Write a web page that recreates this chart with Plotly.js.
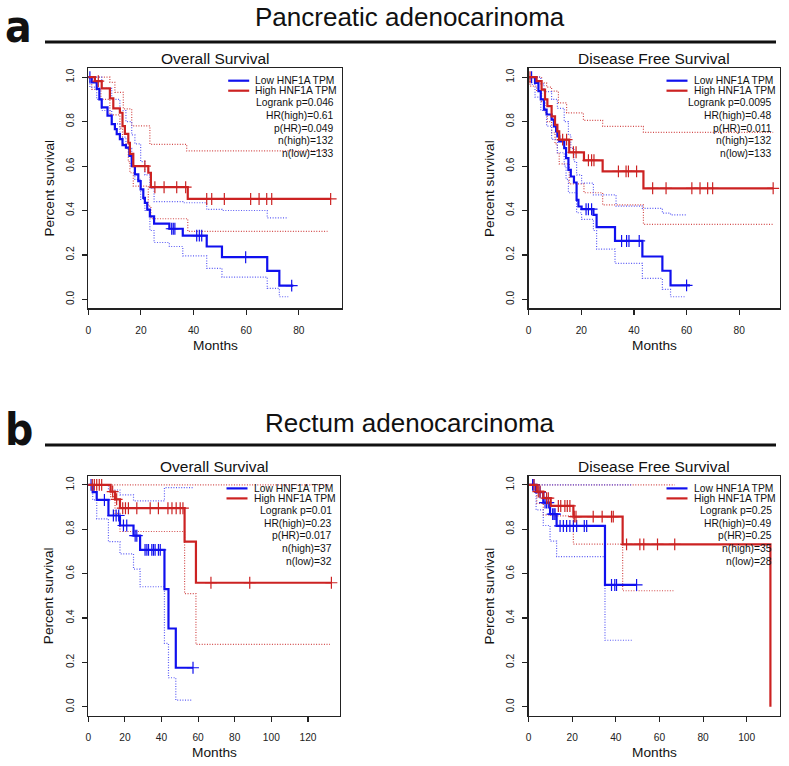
<!DOCTYPE html>
<html>
<head>
<meta charset="utf-8">
<script src="https://cdn.plot.ly/plotly-3.0.1.min.js"></script>
<style>html,body{margin:0;padding:0;background:#fff;}#chart{width:789px;height:766px;}</style>
</head>
<body>
<div id="chart"></div>
<script>
// ---------------- DATA ----------------
const sectionTitles = ["Pancreatic adenocarinoma", "Rectum adenocarcinoma"];
const sectionLetters = ["a", "b"];
const panelTitles = ["Overall Survival", "Disease Free Survival", "Overall Survival", "Disease Free Survival"];
const legendLabels = ["Low HNF1A TPM", "High HNF1A TPM"];
const statsP1 = ["Logrank p=0.046", "HR(high)=0.61", "p(HR)=0.049", "n(high)=132", "n(low)=133"];
const statsP2 = ["Logrank p=0.0095", "HR(high)=0.48", "p(HR)=0.011", "n(high)=132", "n(low)=133"];
const statsP3 = ["Logrank p=0.01", "HR(high)=0.23", "p(HR)=0.017", "n(high)=37", "n(low)=32"];
const statsP4 = ["Logrank p=0.25", "HR(high)=0.49", "p(HR)=0.25", "n(high)=35", "n(low)=28"];
const xTicksP12 = [0, 20, 40, 60, 80];
const xTicksP3 = [0, 20, 40, 60, 80, 100, 120];
const xTicksP4 = [0, 20, 40, 60, 80, 100];
const yTicks = [0, 0.2, 0.4, 0.6, 0.8, 1.0];
const yTickText = ["0.0", "0.2", "0.4", "0.6", "0.8", "1.0"];

// Panel 1: Pancreatic, Overall Survival (months, survival at each step)
const p1HighT = [0, 2.5, 5.1, 8.2, 9.5, 12.0, 13.0, 13.9, 15.2, 15.8, 17.1, 22.8, 23.8, 37.8, 92.1];
const p1HighS = [1, 0.982, 0.95, 0.905, 0.86, 0.84, 0.78, 0.745, 0.705, 0.655, 0.60, 0.57, 0.505, 0.452, 0.452];
const p1HighCens = [3.8, 21.5, 25.3, 28.8, 33.6, 37.0, 45.0, 46.9, 51.7, 61.7, 64.9, 67.8, 69.7, 92.1];
const p1LowT = [0, 1.3, 3.2, 4.2, 5.1, 7.3, 8.9, 10.1, 10.8, 12.0, 13.0, 14.3, 15.6, 16.5, 17.7, 19.0, 19.9, 20.9, 21.5, 22.4, 23.4, 25.0, 30.8, 35.9, 45.0, 50.8, 68.0, 72.6, 77.9];
const p1LowS = [1, 0.977, 0.947, 0.90, 0.864, 0.827, 0.789, 0.766, 0.744, 0.721, 0.694, 0.683, 0.646, 0.60, 0.563, 0.532, 0.495, 0.457, 0.434, 0.404, 0.374, 0.341, 0.318, 0.287, 0.238, 0.19, 0.128, 0.062, 0.062];
const p1LowCens = [0.6, 31.7, 32.3, 32.9, 41.2, 42.2, 43.1, 59.8, 77.3];
const p1HighUpT = [0, 8.2, 10.1, 13.3, 16.5, 23.4, 37.4, 90.6];
const p1HighUpS = [1, 0.977, 0.932, 0.857, 0.781, 0.698, 0.668, 0.668];
const p1HighLoT = [0, 1.3, 4.8, 8.2, 12.0, 13.0, 15.2, 15.8, 17.1, 22.8, 23.8, 37.8, 90.9];
const p1HighLoS = [1, 0.945, 0.90, 0.83, 0.77, 0.70, 0.62, 0.57, 0.51, 0.42, 0.363, 0.306, 0.306];
const p1LowUpT = [0, 3.2, 5.1, 8.9, 12.0, 14.3, 16.5, 17.7, 19.9, 21.5, 23.4, 25.0, 35.9, 45.0, 50.8, 68.0, 76.0];
const p1LowUpS = [1, 1.0, 0.95, 0.90, 0.85, 0.80, 0.74, 0.70, 0.62, 0.56, 0.50, 0.44, 0.435, 0.405, 0.40, 0.367, 0.367];
const p1LowLoT = [0, 0.6, 3.2, 5.1, 8.9, 12.0, 14.3, 16.5, 17.7, 19.9, 21.5, 23.4, 25.0, 30.8, 35.9, 45.0, 50.8, 68.0, 72.6, 76.0];
const p1LowLoS = [1, 0.955, 0.90, 0.85, 0.79, 0.73, 0.68, 0.60, 0.54, 0.45, 0.40, 0.31, 0.256, 0.238, 0.196, 0.14, 0.10, 0.05, 0.012, 0.012];

// Panel 2: Pancreatic, Disease Free Survival
const p2HighT = [0, 3.0, 4.9, 6.2, 7.1, 8.7, 10.0, 10.9, 11.6, 15.4, 21.0, 28.1, 43.6, 92.9];
const p2HighS = [1, 0.982, 0.944, 0.90, 0.87, 0.824, 0.786, 0.756, 0.719, 0.662, 0.626, 0.576, 0.50, 0.50];
const p2HighCens = [0.5, 12.9, 14.4, 17.0, 18.0, 22.7, 23.9, 24.8, 34.1, 37.0, 37.9, 41.0, 47.1, 52.2, 62.0, 65.1, 68.0, 69.9, 92.9];
const p2LowT = [0, 2.4, 3.7, 4.6, 5.8, 6.8, 8.7, 9.6, 10.4, 10.9, 11.6, 13.5, 14.2, 15.1, 16.0, 17.2, 18.2, 18.9, 20.1, 24.6, 25.8, 32.8, 43.2, 50.8, 53.9, 61.3];
const p2LowS = [1, 0.974, 0.937, 0.90, 0.854, 0.832, 0.809, 0.779, 0.756, 0.734, 0.711, 0.681, 0.636, 0.583, 0.553, 0.526, 0.448, 0.418, 0.406, 0.38, 0.325, 0.263, 0.193, 0.129, 0.063, 0.063];
const p2LowCens = [1.1, 21.8, 22.7, 23.9, 35.3, 37.2, 38.1, 42.0, 60.0];
const p2HighUpT = [0, 4.9, 6.8, 8.7, 11.3, 14.4, 20.8, 28.1, 43.6, 92.9];
const p2HighUpS = [1, 0.974, 0.955, 0.937, 0.884, 0.839, 0.806, 0.779, 0.752, 0.752];
const p2HighLoT = [0, 0.5, 3.0, 4.9, 6.2, 7.1, 8.7, 10.0, 10.9, 11.6, 15.4, 21.0, 28.1, 43.6, 92.9];
const p2HighLoS = [1, 0.96, 0.94, 0.89, 0.84, 0.80, 0.75, 0.70, 0.66, 0.61, 0.52, 0.48, 0.425, 0.338, 0.338];
const p2LowUpT = [0, 3.7, 4.6, 5.8, 8.7, 10.9, 13.5, 15.1, 16.0, 17.2, 18.2, 20.1, 24.6, 33.2, 43.2, 50.8, 53.9, 60.0];
const p2LowUpS = [1, 1.0, 0.97, 0.935, 0.90, 0.86, 0.80, 0.74, 0.68, 0.62, 0.56, 0.523, 0.47, 0.42, 0.41, 0.388, 0.38, 0.38];
const p2LowLoT = [0, 1.1, 2.4, 4.6, 6.8, 8.7, 10.9, 13.5, 14.2, 15.1, 18.2, 20.1, 24.6, 25.8, 32.8, 43.2, 50.8, 53.9, 59.5];
const p2LowLoS = [1, 0.967, 0.91, 0.85, 0.78, 0.72, 0.66, 0.60, 0.54, 0.48, 0.39, 0.36, 0.31, 0.226, 0.162, 0.095, 0.045, 0.012, 0.012];

// Panel 3: Rectum, Overall Survival
const p3HighT = [0, 12.2, 14.6, 17.3, 52.6, 58.8, 132.8];
const p3HighS = [1, 0.97, 0.935, 0.895, 0.744, 0.559, 0.559];
const p3HighCens = [2.2, 3.3, 4.6, 6.0, 7.3, 13.3, 15.5, 18.8, 20.3, 21.9, 26.5, 33.8, 38.3, 43.5, 45.7, 48.0, 50.2, 51.7, 67.0, 88.2, 132.8];
const p3LowT = [0, 2.4, 4.6, 11.0, 17.3, 24.7, 28.3, 41.6, 43.8, 47.8, 57.2];
const p3LowS = [1, 0.967, 0.932, 0.862, 0.817, 0.771, 0.707, 0.53, 0.353, 0.176, 0.176];
const p3LowCens = [1.5, 8.8, 13.7, 15.2, 16.6, 19.2, 21.0, 25.6, 26.5, 31.0, 32.0, 32.9, 34.7, 35.6, 36.5, 38.3, 39.3, 57.2];
const p3HighUpT = [0, 131.7];
const p3HighUpS = [1, 1];
const p3HighLoT = [0, 12.2, 14.6, 17.3, 52.6, 58.8, 132.0];
const p3HighLoS = [1, 0.947, 0.872, 0.79, 0.51, 0.281, 0.281];
const p3LowUpT = [0, 11.0, 17.3, 24.7, 41.6, 57.2];
const p3LowUpS = [1, 0.977, 0.955, 0.928, 0.988, 0.988];
const p3LowLoT = [0, 2.4, 4.6, 11.0, 17.3, 24.7, 28.3, 41.6, 43.8, 47.8, 56.5];
const p3LowLoS = [1, 0.932, 0.847, 0.744, 0.689, 0.62, 0.541, 0.286, 0.131, 0.03, 0.03];

// Panel 4: Rectum, Disease Free Survival
const p4HighT = [0, 3.7, 6.7, 10.1, 20.5, 43.1, 110.9];
const p4HighS = [1, 0.97, 0.94, 0.905, 0.857, 0.732, 0];
const p4HighCens = [2.4, 4.4, 5.2, 8.2, 9.0, 13.6, 14.7, 16.6, 17.7, 18.9, 20.9, 21.7, 29.6, 33.7, 38.0, 38.8, 44.9, 51.0, 52.8, 59.1, 67.0];
const p4LowT = [0, 3.4, 6.7, 9.8, 12.8, 35.0, 49.5];
const p4LowS = [1, 0.967, 0.92, 0.868, 0.815, 0.549, 0.549];
const p4LowCens = [1.8, 2.4, 5.2, 7.5, 8.2, 9.0, 11.0, 11.6, 12.1, 14.4, 15.9, 17.4, 18.9, 20.5, 22.0, 25.5, 26.6, 38.0, 39.5, 40.3, 49.5];
const p4HighUpT = [0, 67.0];
const p4HighUpS = [1, 1];
const p4HighLoT = [0, 3.7, 6.7, 10.1, 20.5, 43.1, 67.0];
const p4HighLoS = [1, 0.917, 0.865, 0.86, 0.733, 0.523, 0.523];
const p4LowUpT = [0, 47.2];
const p4LowUpS = [1, 1];
const p4LowLoT = [0, 3.4, 6.7, 9.8, 12.8, 35.0, 48.0];
const p4LowLoS = [1, 0.887, 0.817, 0.747, 0.677, 0.30, 0.30];

// ---------------- LAYOUT HELPERS ----------------
const W = 789, H = 766;
const FONT = "Liberation Sans, Arial, Helvetica, sans-serif";
const BLUE = "#1010EE", RED = "#CC2222";
const BLUE_CI = "#5A5AF5", RED_CI = "#D24A4A";
const DOTS = "1px,1.6px";
const fx = p => p / W;
const fy = p => 1 - p / H;

// panel frame geometry in pixels
const panels = [
  {l: 88.3, r: 341.7, t: 68.3, b: 308.3, xmax: 96.3, ticks: xTicksP12},
  {l: 528.7, r: 780, t: 68.3, b: 308.3, xmax: 95.5, ticks: xTicksP12},
  {l: 88.3, r: 340, t: 476, b: 715.7, xmax: 137.5, ticks: xTicksP3},
  {l: 528.7, r: 780, t: 476, b: 715.7, xmax: 115.3, ticks: xTicksP4}
];

function survAt(time, t, s) {
  let v = s[0];
  for (let i = 0; i < t.length; i++) { if (t[i] <= time) v = s[i]; }
  return v;
}

const traces = [];
function addStep(t, s, k, color, width, dash) {
  traces.push({x: t, y: s, mode: "lines", xaxis: "x" + (k ? k + 1 : ""), yaxis: "y" + (k ? k + 1 : ""),
    line: {shape: "hv", color: color, width: width, dash: dash}, hoverinfo: "skip", showlegend: false});
}
function addCens(ct, t, s, k, color) {
  traces.push({x: ct, y: ct.map(c => survAt(c, t, s)), mode: "markers", xaxis: "x" + (k ? k + 1 : ""), yaxis: "y" + (k ? k + 1 : ""),
    marker: {symbol: "cross-thin-open", size: 8.5, color: color, line: {color: color, width: 1.2}}, hoverinfo: "skip", showlegend: false});
}

const panelData = [
  {hT: p1HighT, hS: p1HighS, hC: p1HighCens, lT: p1LowT, lS: p1LowS, lC: p1LowCens,
   hu: [p1HighUpT, p1HighUpS], hl: [p1HighLoT, p1HighLoS], lu: [p1LowUpT, p1LowUpS], ll: [p1LowLoT, p1LowLoS], stats: statsP1},
  {hT: p2HighT, hS: p2HighS, hC: p2HighCens, lT: p2LowT, lS: p2LowS, lC: p2LowCens,
   hu: [p2HighUpT, p2HighUpS], hl: [p2HighLoT, p2HighLoS], lu: [p2LowUpT, p2LowUpS], ll: [p2LowLoT, p2LowLoS], stats: statsP2},
  {hT: p3HighT, hS: p3HighS, hC: p3HighCens, lT: p3LowT, lS: p3LowS, lC: p3LowCens,
   hu: [p3HighUpT, p3HighUpS], hl: [p3HighLoT, p3HighLoS], lu: [p3LowUpT, p3LowUpS], ll: [p3LowLoT, p3LowLoS], stats: statsP3},
  {hT: p4HighT, hS: p4HighS, hC: p4HighCens, lT: p4LowT, lS: p4LowS, lC: p4LowCens,
   hu: [p4HighUpT, p4HighUpS], hl: [p4HighLoT, p4HighLoS], lu: [p4LowUpT, p4LowUpS], ll: [p4LowLoT, p4LowLoS], stats: statsP4}
];

const layout = {
  width: W, height: H, margin: {l: 0, r: 0, t: 0, b: 0},
  paper_bgcolor: "#fff", plot_bgcolor: "#fff", showlegend: false,
  font: {family: FONT, color: "#111"},
  annotations: [], shapes: []
};

panelData.forEach((d, k) => {
  // confidence bands (dotted)
  addStep(d.hu[0], d.hu[1], k, RED_CI, 1.2, DOTS);
  addStep(d.hl[0], d.hl[1], k, RED_CI, 1.2, DOTS);
  addStep(d.lu[0], d.lu[1], k, BLUE_CI, 1.2, DOTS);
  addStep(d.ll[0], d.ll[1], k, BLUE_CI, 1.2, DOTS);
  // survival curves
  addStep(d.lT, d.lS, k, BLUE, 2.2, "solid");
  addCens(d.lC, d.lT, d.lS, k, BLUE);
  addStep(d.hT, d.hS, k, RED, 2.2, "solid");
  addCens(d.hC, d.hT, d.hS, k, RED);

  const P = panels[k];
  const sfx = k ? String(k + 1) : "";
  const axCommon = {showline: true, mirror: true, linecolor: "#222", linewidth: 1.3,
    ticks: "outside", ticklen: 5, tickwidth: 1.1, tickcolor: "#222",
    showgrid: false, zeroline: false, fixedrange: true,
    tickfont: {family: FONT, size: 10.2, color: "#222"}};
  layout["xaxis" + sfx] = Object.assign({}, axCommon, {
    domain: [fx(P.l), fx(P.r)], range: [0, P.xmax], anchor: "y" + sfx,
    tickmode: "array", tickvals: P.ticks, ticktext: P.ticks.map(String), ticklabelstandoff: 7});
  layout["yaxis" + sfx] = Object.assign({}, axCommon, {
    domain: [fy(P.b), fy(P.t)], range: [-0.04, 1.04], anchor: "x" + sfx,
    tickmode: "array", tickvals: yTicks, ticktext: yTickText, tickangle: -90, ticklabelstandoff: 4});

  const cx = (P.l + P.r) / 2;
  // panel title
  layout.annotations.push({text: panelTitles[k], xref: "paper", yref: "paper", x: fx(cx), y: fy(P.t - 10),
    xanchor: "center", yanchor: "middle", showarrow: false, font: {family: FONT, size: 15.5, color: "#111"}});
  // axis titles
  layout.annotations.push({text: "Months", xref: "paper", yref: "paper", x: fx(cx), y: fy(P.b + 37),
    xanchor: "center", yanchor: "middle", showarrow: false, font: {family: FONT, size: 13.7, color: "#111"}});
  layout.annotations.push({text: "Percent survival", xref: "paper", yref: "paper", x: fx(P.l - 39), y: fy((P.t + P.b) / 2),
    xanchor: "center", yanchor: "middle", textangle: -90, showarrow: false, font: {family: FONT, size: 13.6, color: "#111"}});

  // legend
  const right = P.r - 6.5;
  const legX0 = right - 107, legX1 = right - 86, legTx = right - 82;
  const legY = [P.t + 12.4, P.t + 22.4];
  [BLUE, RED].forEach((c, i) => {
    layout.shapes.push({type: "line", xref: "paper", yref: "paper", x0: fx(legX0), x1: fx(legX1), y0: fy(legY[i]), y1: fy(legY[i]),
      line: {color: c, width: 2.2}});
    layout.annotations.push({text: legendLabels[i], xref: "paper", yref: "paper", x: fx(legTx), y: fy(legY[i]),
      xanchor: "left", yanchor: "middle", showarrow: false, font: {family: FONT, size: 10.3, color: "#111"}});
  });
  d.stats.forEach((s, i) => {
    layout.annotations.push({text: s, xref: "paper", yref: "paper", x: fx(right + 0.5), y: fy(P.t + 34.5 + i * 12.7),
      xanchor: "right", yanchor: "middle", showarrow: false, font: {family: FONT, size: 10.3, color: "#111"}});
  });
});

// section headers
const headers = [{title: 17, rule: 42, letterBase: 42}, {title: 423, rule: 445, letterBase: 445}];
headers.forEach((h, i) => {
  layout.annotations.push({text: sectionTitles[i], xref: "paper", yref: "paper", x: fx(410), y: fy(h.title),
    xanchor: "center", yanchor: "middle", showarrow: false, font: {family: FONT, size: 26, color: "#111"}});
  layout.annotations.push({text: "<b>" + sectionLetters[i] + "</b>", xref: "paper", yref: "paper", x: fx(3), y: fy(h.letterBase - 15.5),
    xanchor: "left", yanchor: "middle", showarrow: false,
    font: {family: "DejaVu Sans Condensed, Liberation Sans Narrow, Open Sans, sans-serif", size: 44, color: "#111"}});
  layout.shapes.push({type: "line", xref: "paper", yref: "paper", x0: fx(45), x1: fx(776), y0: fy(h.rule), y1: fy(h.rule),
    line: {color: "#111", width: 3}});
});

Plotly.newPlot("chart", traces, layout, {staticPlot: true, displayModeBar: false});
</script>
</body>
</html>
